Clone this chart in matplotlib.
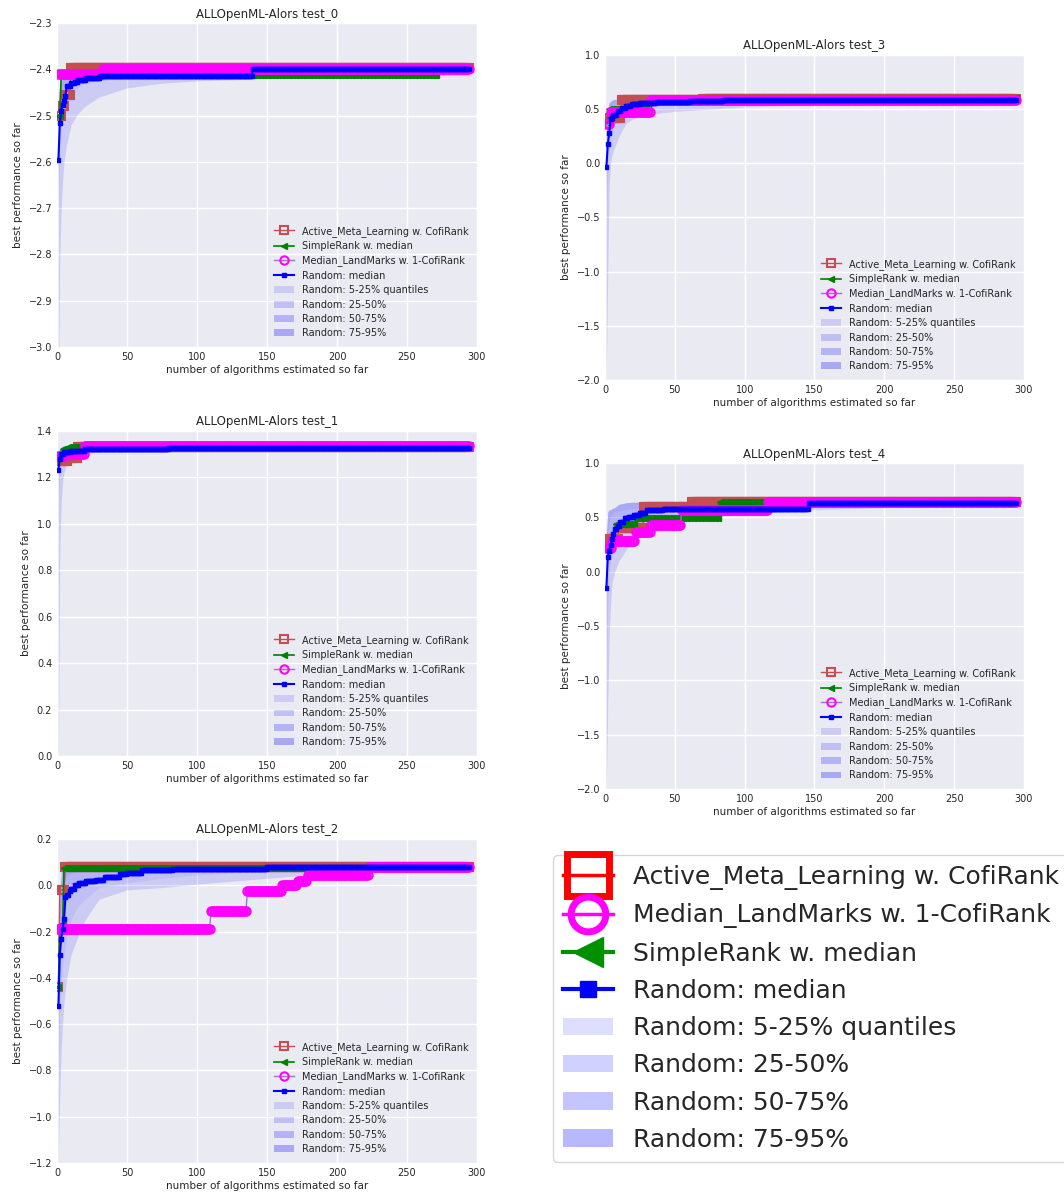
import numpy as np
import matplotlib
matplotlib.use("Agg")
import matplotlib.pyplot as plt
from matplotlib.lines import Line2D
from matplotlib.patches import Patch

N_ALGOS = 294

# quantile knots (x positions shared by all panels)
q_x = [1, 2, 3, 4, 5, 7, 10, 15, 20, 30, 50, 75, 100, 150, 200, 250, 294]

# ---- test_0 ----
t0_aml = [(1, -2.50), (4, -2.48), (6, -2.455), (10, -2.397)]
t0_simple = [(1, -2.50), (3, -2.413)]
t0_simple_end = 271
t0_landmarks = [(1, -2.41), (33, -2.399)]
t0_median = [(1, -2.595), (2, -2.515), (3, -2.49), (4, -2.478), (5, -2.468), (6, -2.457),
             (7, -2.437), (8, -2.435), (10, -2.43), (13, -2.427), (15, -2.424), (21, -2.419),
             (31, -2.415), (55, -2.414), (140, -2.40)]
t0_q05 = [-3.1, -2.80, -2.70, -2.64, -2.60, -2.56, -2.52, -2.495, -2.48, -2.46, -2.44, -2.43,
          -2.425, -2.42, -2.417, -2.415, -2.413]
t0_q25 = [-2.70, -2.58, -2.53, -2.50, -2.48, -2.46, -2.45, -2.44, -2.43, -2.425, -2.42, -2.418,
          -2.416, -2.414, -2.412, -2.41, -2.41]
t0_q50 = [-2.595, -2.515, -2.49, -2.475, -2.465, -2.44, -2.43, -2.424, -2.419, -2.414, -2.413,
          -2.413, -2.413, -2.405, -2.40, -2.40, -2.40]
t0_q75 = [-2.53, -2.47, -2.45, -2.44, -2.43, -2.42, -2.415, -2.412, -2.41, -2.41, -2.405, -2.402,
          -2.40, -2.40, -2.40, -2.40, -2.40]
t0_q95 = [-2.47, -2.43, -2.42, -2.41, -2.405, -2.40, -2.40, -2.40, -2.40, -2.40, -2.40, -2.40,
          -2.40, -2.40, -2.40, -2.40, -2.40]

# ---- test_3 ----
t3_aml = [(1, 0.42), (12, 0.585), (70, 0.595)]
t3_simple = [(1, 0.38), (3, 0.50), (24, 0.53), (32, 0.58), (70, 0.60)]
t3_landmarks = [(1, 0.36), (4, 0.47), (33, 0.585)]
t3_median = [(1, -0.037), (2, 0.175), (3, 0.277), (4, 0.406), (5, 0.42), (6, 0.45), (9, 0.48),
             (12, 0.51), (15, 0.53), (19, 0.545), (25, 0.56), (37, 0.57), (61, 0.575), (85, 0.58)]
t3_q05 = [-1.9, -1.0, -0.2, 0.0, 0.07, 0.15, 0.25, 0.37, 0.41, 0.45, 0.48, 0.50, 0.52, 0.54,
          0.555, 0.565, 0.57]
t3_q25 = [-0.6, -0.1, 0.1, 0.2, 0.28, 0.36, 0.42, 0.47, 0.50, 0.52, 0.54, 0.555, 0.565, 0.57,
          0.575, 0.578, 0.58]
t3_q50 = [-0.04, 0.17, 0.28, 0.40, 0.42, 0.46, 0.50, 0.53, 0.545, 0.56, 0.57, 0.575, 0.578,
          0.58, 0.58, 0.58, 0.58]
t3_q75 = [0.10, 0.40, 0.48, 0.51, 0.53, 0.55, 0.56, 0.57, 0.575, 0.58, 0.58, 0.582, 0.584,
          0.585, 0.585, 0.585, 0.585]
t3_q95 = [0.40, 0.50, 0.56, 0.57, 0.585, 0.59, 0.59, 0.59, 0.59, 0.59, 0.59, 0.59, 0.59, 0.59,
          0.59, 0.59, 0.59]

# ---- test_1 ----
t1_aml = [(1, 1.27), (8, 1.285), (15, 1.33)]
t1_simple = [(1, 1.30), (4, 1.32), (8, 1.33)]
t1_landmarks = [(1, 1.29), (6, 1.30), (20, 1.335)]
t1_median = [(1, 1.232), (2, 1.28), (3, 1.30), (5, 1.31), (10, 1.315), (20, 1.32), (50, 1.322),
             (80, 1.325)]
t1_q05 = [0.0, 0.9, 1.10, 1.18, 1.22, 1.26, 1.28, 1.295, 1.30, 1.31, 1.315, 1.318, 1.32, 1.322,
          1.323, 1.324, 1.325]
t1_q25 = [1.10, 1.22, 1.26, 1.28, 1.29, 1.30, 1.305, 1.31, 1.313, 1.316, 1.32, 1.322, 1.323,
          1.325, 1.325, 1.325, 1.325]
t1_q50 = [1.23, 1.28, 1.30, 1.305, 1.31, 1.312, 1.315, 1.318, 1.32, 1.322, 1.323, 1.325, 1.325,
          1.325, 1.325, 1.325, 1.325]
t1_q75 = [1.28, 1.30, 1.31, 1.315, 1.32, 1.325, 1.328, 1.33, 1.33, 1.33, 1.33, 1.33, 1.33, 1.33,
          1.33, 1.33, 1.33]
t1_q95 = [1.31, 1.325, 1.33, 1.335, 1.335, 1.335, 1.335, 1.335, 1.335, 1.335, 1.335, 1.335,
          1.335, 1.335, 1.335, 1.335, 1.335]

# ---- test_4 ----
t4_aml = [(1, 0.22), (3, 0.30), (10, 0.40), (28, 0.60), (62, 0.645)]
t4_simple = [(1, 0.20), (4, 0.30), (8, 0.44), (22, 0.49), (82, 0.645)]
t4_landmarks = [(1, 0.22), (5, 0.28), (22, 0.37), (33, 0.43), (55, 0.57), (117, 0.64)]
t4_median = [(1, -0.15), (2, 0.135), (3, 0.19), (4, 0.25), (5, 0.30), (6, 0.35), (7, 0.39),
             (9, 0.42), (11, 0.455), (14, 0.49), (17, 0.505), (21, 0.52), (25, 0.545), (30, 0.565),
             (42, 0.58), (146, 0.635)]
t4_q05 = [-1.95, -1.2, -0.6, -0.3, -0.1, 0.0, 0.1, 0.2, 0.29, 0.36, 0.44, 0.50, 0.53, 0.57,
          0.59, 0.60, 0.61]
t4_q25 = [-1.0, -0.3, 0.0, 0.1, 0.18, 0.25, 0.32, 0.40, 0.44, 0.48, 0.52, 0.55, 0.57, 0.59,
          0.60, 0.61, 0.62]
t4_q50 = [-0.15, 0.135, 0.19, 0.25, 0.32, 0.39, 0.45, 0.50, 0.52, 0.56, 0.575, 0.585, 0.59,
          0.61, 0.625, 0.635, 0.635]
t4_q75 = [0.05, 0.35, 0.45, 0.50, 0.53, 0.55, 0.56, 0.57, 0.58, 0.59, 0.60, 0.61, 0.62, 0.63,
          0.635, 0.635, 0.635]
t4_q95 = [0.35, 0.55, 0.57, 0.57, 0.58, 0.59, 0.62, 0.635, 0.64, 0.64, 0.64, 0.64, 0.64, 0.64,
          0.64, 0.64, 0.64]

# ---- test_2 ----
t2_aml = [(1, -0.44), (2, -0.02), (6, 0.08)]
t2_simple = [(1, -0.44), (2, -0.17), (5, 0.075)]
t2_landmarks = [(1, -0.19), (110, -0.11), (136, -0.023), (161, 0.0), (172, 0.02), (179, 0.046),
                (223, 0.08)]
t2_median = [(1, -0.52), (2, -0.30), (3, -0.23), (4, -0.19), (5, -0.146), (6, -0.05), (7, -0.04),
             (9, -0.025), (10, -0.015), (13, 0.0), (16, 0.01), (21, 0.02), (28, 0.025), (34, 0.035),
             (45, 0.05), (50, 0.055), (61, 0.065), (83, 0.072), (150, 0.077)]
t2_q05 = [-1.15, -0.9, -0.7, -0.6, -0.5, -0.4, -0.3, -0.22, -0.15, -0.06, -0.02, -0.01, 0.005,
          0.03, 0.055, 0.065, 0.07]
t2_q25 = [-0.8, -0.5, -0.42, -0.35, -0.30, -0.22, -0.15, -0.09, -0.06, -0.01, 0.01, 0.03, 0.045,
          0.06, 0.068, 0.072, 0.075]
t2_q50 = [-0.52, -0.30, -0.23, -0.19, -0.15, -0.06, -0.03, 0.0, 0.015, 0.028, 0.052, 0.07, 0.073,
          0.076, 0.077, 0.078, 0.078]
t2_q75 = [-0.45, -0.2, -0.08, -0.02, 0.01, 0.04, 0.05, 0.06, 0.065, 0.07, 0.072, 0.075, 0.077,
          0.078, 0.078, 0.078, 0.078]
t2_q95 = [-0.3, -0.05, 0.06, 0.07, 0.08, 0.08, 0.08, 0.08, 0.08, 0.08, 0.08, 0.08, 0.08, 0.08,
          0.08, 0.08, 0.08]

labels = ["Active_Meta_Learning w. CofiRank", "SimpleRank w. median",
          "Median_LandMarks w. 1-CofiRank", "Random: median"]
band_labels = ["Random: 5-25% quantiles", "Random: 25-50%", "Random: 50-75%", "Random: 75-95%"]
band_alpha = [0.13, 0.18, 0.23, 0.28]

plt.rcParams.update({
    "font.family": "DejaVu Sans",
    "axes.facecolor": "#EAEAF2",
    "axes.edgecolor": "white",
    "axes.grid": True,
    "grid.color": "white",
    "grid.linewidth": 1.0,
    "axes.axisbelow": True,
    "xtick.major.size": 0,
    "ytick.major.size": 0,
    "xtick.color": "#262626",
    "ytick.color": "#262626",
    "axes.labelcolor": "#262626",
    "text.color": "#262626",
    "xtick.labelsize": 7,
    "ytick.labelsize": 7,
})


def best_so_far(points, end=N_ALGOS):
    # expand change points into one value per evaluated algorithm
    cx = np.array([p[0] for p in points])
    cy = np.array([p[1] for p in points])
    xs = np.arange(1, end + 1)
    idx = np.searchsorted(cx, xs, side="right") - 1
    return xs, cy[idx]


def draw_panel(ax, title, aml, simple, landmarks, median, q, ylim, simple_end=N_ALGOS):
    x, y = best_so_far(aml)
    ax.plot(x, y, color="#C44E52", marker="s", ms=6, mfc="none", mew=1.5, lw=1, label=labels[0])
    x, y = best_so_far(simple, simple_end)
    ax.plot(x, y, color="green", marker="<", ms=5, lw=1.2, label=labels[1])
    x, y = best_so_far(landmarks)
    ax.plot(x, y, color="#A070D0", marker="o", ms=6, mfc="none", mec="magenta", mew=1.5, lw=1,
            label=labels[2])
    x, y = best_so_far(median)
    ax.plot(x, y, color="blue", marker="s", ms=3, lw=1.5, label=labels[3])
    # quantile bands go under the lines
    for i in range(4):
        ax.fill_between(q_x, q[i], q[i + 1], color="blue", alpha=band_alpha[i], lw=0,
                        zorder=1, label=band_labels[i])
    ax.set_xlim(0, 300)
    ax.set_ylim(*ylim)
    ax.set_title(title, fontsize=8.5, pad=4)
    ax.set_xlabel("number of algorithms estimated so far", fontsize=7.5, labelpad=2)
    ax.set_ylabel("best performance so far", fontsize=7.5)
    for s in ax.spines.values():
        s.set_visible(False)
    ax.legend(loc="lower right", fontsize=7, frameon=False, handlelength=2, labelspacing=0.45)


fig = plt.figure(figsize=(10.64, 11.95), dpi=100)

ax0 = fig.add_axes([0.0536, 0.7096, 0.3947, 0.2711])
draw_panel(ax0, "ALLOpenML-Alors test_0", t0_aml, t0_simple, t0_landmarks, t0_median,
           [t0_q05, t0_q25, t0_q50, t0_q75, t0_q95], (-3.0, -2.3), simple_end=t0_simple_end)

ax3 = fig.add_axes([0.5686, 0.682, 0.3938, 0.272])
draw_panel(ax3, "ALLOpenML-Alors test_3", t3_aml, t3_simple, t3_landmarks, t3_median,
           [t3_q05, t3_q25, t3_q50, t3_q75, t3_q95], (-2.0, 1.0))

ax1 = fig.add_axes([0.0536, 0.3674, 0.3947, 0.272])
draw_panel(ax1, "ALLOpenML-Alors test_1", t1_aml, t1_simple, t1_landmarks, t1_median,
           [t1_q05, t1_q25, t1_q50, t1_q75, t1_q95], (0.0, 1.4))

ax4 = fig.add_axes([0.5686, 0.3397, 0.3938, 0.2728])
draw_panel(ax4, "ALLOpenML-Alors test_4", t4_aml, t4_simple, t4_landmarks, t4_median,
           [t4_q05, t4_q25, t4_q50, t4_q75, t4_q95], (-2.0, 1.0))

ax2 = fig.add_axes([0.0536, 0.0268, 0.3947, 0.2711])
draw_panel(ax2, "ALLOpenML-Alors test_2", t2_aml, t2_simple, t2_landmarks, t2_median,
           [t2_q05, t2_q25, t2_q50, t2_q75, t2_q95], (-1.2, 0.2))

# big shared legend
handles = [
    Line2D([], [], color="red", marker="s", ms=30, mfc="none", mew=5, lw=2.5),
    Line2D([], [], color="magenta", marker="o", ms=25, mfc="none", mew=5, lw=2.5),
    Line2D([], [], color="#009000", marker="<", ms=22, lw=3),
    Line2D([], [], color="blue", marker="s", ms=11, lw=3),
]
handles += [Patch(facecolor="blue", alpha=a, lw=0) for a in band_alpha]
big_labels = [labels[0], labels[2], labels[1], labels[3]] + band_labels
leg = fig.legend(handles, big_labels, loc="upper left", bbox_to_anchor=(553 / 1064, 1 - 855 / 1195),
                 borderaxespad=0, fontsize=18, frameon=True, fancybox=True, labelspacing=0.53)
leg.get_frame().set_edgecolor("#CCCCCC")
leg.get_frame().set_facecolor("white")

fig.savefig("out.png", dpi=100)
